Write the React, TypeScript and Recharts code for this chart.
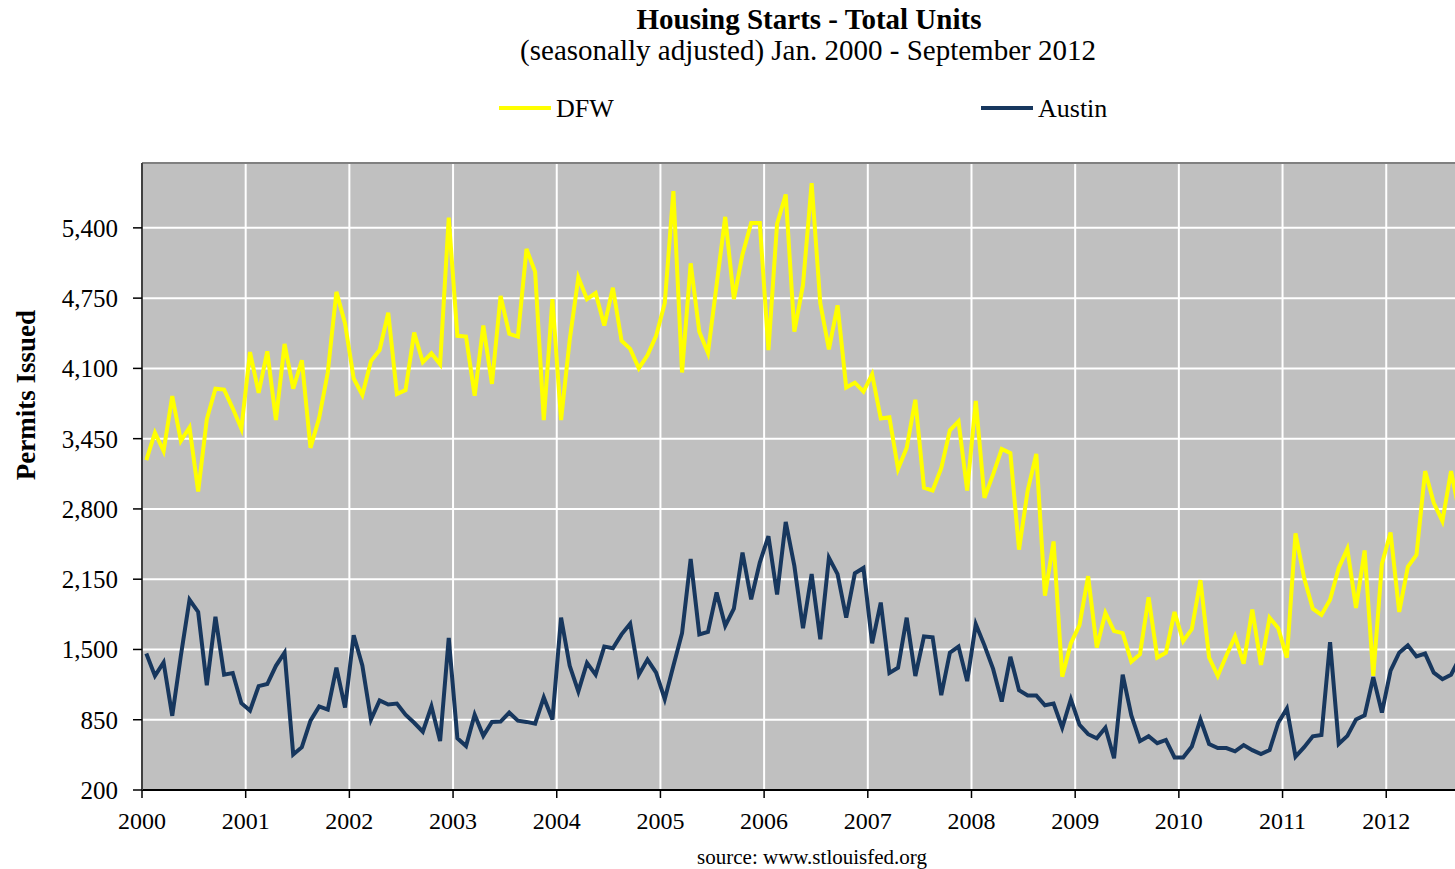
import React from 'react';
import { LineChart, Line, XAxis, YAxis, CartesianGrid, ReferenceLine } from 'recharts';

const yearLabels = ['2000', '2001', '2002', '2003', '2004', '2005', '2006', '2007', '2008', '2009', '2010', '2011', '2012'];
const yTicks = [200, 850, 1500, 2150, 2800, 3450, 4100, 4750, 5400];

// Monthly values, Jan 2000 – Sep 2012
const dfw = [
  3252, 3505, 3335, 3844, 3429, 3554, 2962, 3629, 3912, 3904, 3731, 3542,
  4251, 3874, 4258, 3622, 4326, 3912, 4175, 3365, 3640, 4062, 4808, 4515,
  4006, 3855, 4168, 4270, 4616, 3863, 3900, 4432, 4157, 4240, 4138, 5494,
  4401, 4394, 3848, 4496, 3957, 4771, 4420, 4394, 5204, 4993, 3622, 4741,
  3622, 4364, 4940, 4741, 4797, 4496, 4846, 4356, 4281, 4100, 4221, 4401,
  4703, 5739, 4062, 5072, 4439, 4243, 4872, 5502, 4741, 5155, 5445, 5445,
  4270, 5438, 5709, 4439, 4872, 5814, 4703, 4277, 4684, 3923, 3968, 3885,
  4044, 3637, 3648, 3169, 3365, 3810, 2996, 2970, 3177, 3527, 3610, 2970,
  3799, 2902, 3120, 3354, 3316, 2423, 2970, 3309, 1998, 2499, 1248, 1557,
  1726, 2178, 1519, 1839, 1670, 1651, 1387, 1455, 1983, 1425, 1470, 1847,
  1576, 1689, 2141, 1425, 1255, 1444, 1621, 1369, 1869, 1358, 1794, 1696,
  1425, 2574, 2160, 1877, 1820, 1960, 2254, 2431, 1884, 2416, 1255, 2292,
  2582, 1847, 2265, 2375, 3150, 2857, 2687, 3150, 2750,
];

const austin = [
  1462, 1255, 1380, 886, 1444, 1960, 1847, 1169, 1802, 1267, 1282, 1003,
  935, 1161, 1180, 1349, 1470, 528, 596, 841, 973, 943, 1331, 962,
  1632, 1352, 852, 1029, 991, 999, 897, 822, 739, 973, 652, 1606,
  679, 607, 897, 701, 830, 833, 916, 841, 830, 814, 1056, 852,
  1794, 1349, 1112, 1376, 1267, 1527, 1511, 1640, 1738, 1267, 1406, 1285,
  1040, 1349, 1651, 2337, 1640, 1662, 2028, 1719, 1877, 2397, 1964, 2303,
  2548, 2009, 2680, 2273, 1696, 2197, 1594, 2348, 2197, 1794, 2205, 2254,
  1557, 1934, 1282, 1331, 1794, 1255, 1621, 1613, 1078, 1470, 1527, 1207,
  1734, 1538, 1320, 1018, 1432, 1123, 1074, 1074, 984, 999, 776, 1040,
  803, 716, 679, 776, 494, 1267, 890, 652, 697, 633, 663, 501,
  501, 603, 852, 626, 588, 588, 558, 615, 569, 532, 569, 822,
  954, 509, 596, 697, 709, 1568, 626, 701, 852, 890, 1244, 916,
  1304, 1470, 1538, 1436, 1462, 1285, 1225, 1267, 1420,
];

// x = months since Jan 2000, plotted at mid-month
const data = dfw.map((v, i) => ({ t: i + 0.5, dfw: v, austin: austin[i] }));
const xTicks = yearLabels.map((_, k) => k * 12);

const FONT = '"Liberation Serif", "Times New Roman", serif';
const DFW_COLOR = '#FFFF00';
const AUSTIN_COLOR = '#17375E';

export default function App() {
  return (
    <div
      style={{
        position: 'fixed',
        left: 0,
        top: 0,
        width: 1455,
        height: 869,
        overflow: 'hidden',
        background: '#FFFFFF',
      }}
    >
      <LineChart
        width={1470}
        height={869}
        data={data}
        margin={{ top: 163, right: 6, bottom: 39, left: 0 }}
      >
        <CartesianGrid fill="#C0C0C0" stroke="#FFFFFF" strokeWidth={2} />
        <XAxis
          type="number"
          dataKey="t"
          domain={[0, 153]}
          ticks={xTicks}
          tickFormatter={(v: number) => yearLabels[Math.round(v / 12)]}
          height={40}
          tickSize={8}
          tickMargin={14}
          axisLine={{ stroke: '#000000', strokeWidth: 2 }}
          tickLine={{ stroke: '#000000', strokeWidth: 1.5 }}
          tick={{ fontSize: 24, fill: '#000000', fontFamily: FONT }}
          interval={0}
        />
        <YAxis
          type="number"
          domain={[200, 6000]}
          ticks={yTicks}
          tickFormatter={(v: number) => v.toLocaleString('en-US')}
          width={142}
          tickSize={9}
          tickMargin={15}
          axisLine={{ stroke: '#404040', strokeWidth: 2 }}
          tickLine={{ stroke: '#000000', strokeWidth: 1.5 }}
          tick={{ fontSize: 25, fill: '#000000', fontFamily: FONT }}
          interval={0}
        />
        <ReferenceLine y={6000} stroke="#808080" strokeWidth={2} />
        <Line
          type="linear"
          dataKey="dfw"
          stroke={DFW_COLOR}
          strokeWidth={4}
          dot={false}
          isAnimationActive={false}
        />
        <Line
          type="linear"
          dataKey="austin"
          stroke={AUSTIN_COLOR}
          strokeWidth={4}
          dot={false}
          isAnimationActive={false}
        />
      </LineChart>
      <svg
        width={1455}
        height={869}
        style={{ position: 'absolute', left: 0, top: 0, pointerEvents: 'none' }}
      >
        <text x={809} y={29} textAnchor="middle" fontFamily={FONT} fontWeight="bold" fontSize={29} fill="#000">
          Housing Starts - Total Units
        </text>
        <text x={808} y={60} textAnchor="middle" fontFamily={FONT} fontSize={29} fill="#000">
          (seasonally adjusted) Jan. 2000 - September 2012
        </text>
        <line x1={499} y1={108} x2={551} y2={108} stroke={DFW_COLOR} strokeWidth={4} />
        <text x={556} y={117} fontFamily={FONT} fontSize={26} fill="#000">DFW</text>
        <line x1={981} y1={108} x2={1033} y2={108} stroke={AUSTIN_COLOR} strokeWidth={4} />
        <text x={1038} y={117} fontFamily={FONT} fontSize={26} fill="#000">Austin</text>
        <text
          x={0}
          y={0}
          transform="translate(35 395) rotate(-90)"
          textAnchor="middle"
          fontFamily={FONT}
          fontWeight="bold"
          fontSize={27}
          fill="#000"
        >
          Permits Issued
        </text>
        <text x={812} y={864} textAnchor="middle" fontFamily={FONT} fontSize={21} fill="#000">
          source: www.stlouisfed.org
        </text>
      </svg>
    </div>
  );
}
